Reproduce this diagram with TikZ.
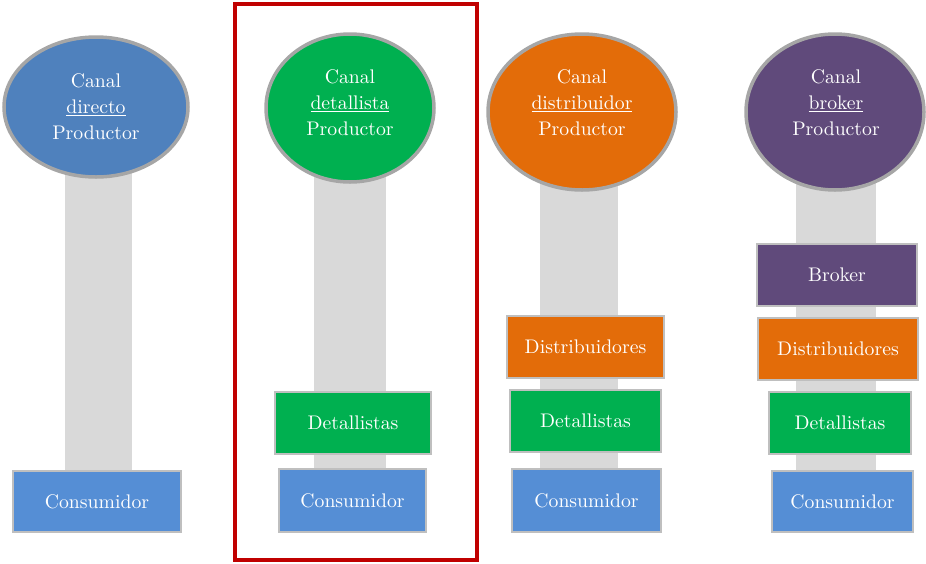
\documentclass[tikz,border=0pt]{standalone}
\usepackage{fontspec}
\newfontfamily\capfont{lmroman10-regular}[Extension=.otf]
\usetikzlibrary{shapes.geometric}
\definecolor{cblue}{HTML}{4F81BD}
\definecolor{cbox}{HTML}{558ED5}
\definecolor{cgreen}{HTML}{00B050}
\definecolor{corange}{HTML}{E36C09}
\definecolor{cpurple}{HTML}{604A7B}
\definecolor{cbar}{HTML}{D9D9D9}
\definecolor{crim}{HTML}{A6A6A6}
\definecolor{cedge}{HTML}{BFBFBF}
\definecolor{cframe}{HTML}{C00000}
\pgfdeclarelayer{bg}
\pgfsetlayers{bg,main}
\tikzset{
  oval/.style={ellipse, draw=crim, line width=3.5pt, inner sep=0pt},
  label text/.style={text=white, align=center, font=\capfont\fontsize{19.7}{26}\selectfont, inner sep=0pt},
  stagebox/.style={rectangle, draw=cedge, line width=1.5pt, inner sep=0pt, text=white,
    font=\capfont\fontsize{19.7}{26}\selectfont},
  bar/.style={draw=cbar},
}
\begin{document}
\begin{tikzpicture}[x=1pt,y=-1pt]
\useasboundingbox (0,0) rectangle (926,563);

% ---- stage boxes
\node[stagebox, fill=cbox, minimum width=168pt, minimum height=61pt] (c1) at (97,501.5) {Consumidor};

\node[stagebox, fill=cgreen, minimum width=156pt, minimum height=62pt] (d2) at (353,423) {Detallistas};
\node[stagebox, fill=cbox, minimum width=147pt, minimum height=63pt] (c2) at (352.5,500.5) {Consumidor};

\node[stagebox, fill=corange, minimum width=157pt, minimum height=62pt] (s3) at (585.5,347) {Distribuidores};
\node[stagebox, fill=cgreen, minimum width=151pt, minimum height=62pt] (d3) at (585.5,421) {Detallistas};
\node[stagebox, fill=cbox, minimum width=149pt, minimum height=63pt] (c3) at (586.5,500.5) {Consumidor};

\node[stagebox, fill=cpurple, minimum width=160pt, minimum height=62pt] (b4) at (837,275) {Broker};
\node[stagebox, fill=corange, minimum width=160pt, minimum height=62pt] (s4) at (838,349) {Distribuidores};
\node[stagebox, fill=cgreen, minimum width=142pt, minimum height=62pt] (d4) at (840,423) {Detallistas};
\node[stagebox, fill=cbox, minimum width=141pt, minimum height=61pt] (c4) at (842.5,501.5) {Consumidor};

% ---- producer ovals
\node[oval, fill=cblue, minimum width=184pt, minimum height=140pt] (e1) at (96,107) {};
\node[oval, fill=cgreen, minimum width=168pt, minimum height=148pt] (e2) at (350,108) {};
\node[oval, fill=corange, minimum width=188pt, minimum height=156pt] (e3) at (582,112) {};
\node[oval, fill=cpurple, minimum width=178pt, minimum height=156pt] (e4) at (835,112) {};

% ---- grey channel bars, behind ovals and boxes
\begin{pgfonlayer}{bg}
  \draw[bar, line width=67pt] (e1.center -| 98.5,0) -- (c1.north -| 98.5,0);
  \draw[bar, line width=72pt] (e2.center) -- (c2.north -| e2.center);
  \draw[bar, line width=78pt] (e3.center -| 579,0) -- (c3.north -| 579,0);
  \draw[bar, line width=80pt] (e4.center -| 836,0) -- (c4.north -| 836,0);
\end{pgfonlayer}

% ---- oval captions
\node[label text] (t1) at (e1.center) {Canal\\\underline{directo}\\Productor};
\node[label text] (t2) at (350,103) {Canal\\\underline{detallista}\\Productor};
\node[label text] (t3) at (582,103) {Canal\\\underline{distribuidor}\\Productor};
\node[label text] (t4) at (836,103) {Canal\\\underline{broker}\\Productor};

% ---- highlight frame around the retail channel
\draw[cframe, line width=3.5pt] (235,4) rectangle (477,560);
\end{tikzpicture}
\end{document}
